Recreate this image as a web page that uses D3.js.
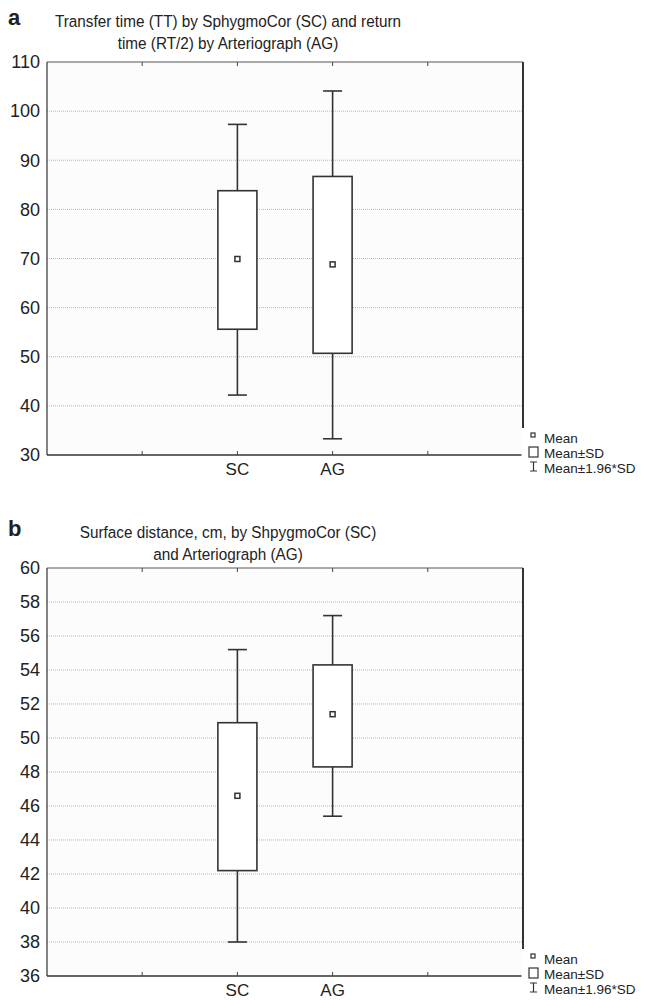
<!DOCTYPE html>
<html>
<head>
<meta charset="utf-8">
<script src="https://cdn.jsdelivr.net/npm/d3@7"></script>
<style>
  body { margin: 0; background: #fff; }
  text { font-family: "Liberation Sans", Arial, Helvetica, sans-serif; fill: #222; }
</style>
</head>
<body>
<div id="chart"></div>
<script>
// groups on the x axis
const groups = ["SC", "AG"];

// panel a: transfer time / return time
const ttMean = [69.9, 68.8];
const ttSdLow = [55.6, 50.7];
const ttSdHigh = [83.8, 86.7];
const ttCiLow = [42.2, 33.3];
const ttCiHigh = [97.3, 104.1];
const ttTicks = [30, 40, 50, 60, 70, 80, 90, 100, 110];

// panel b: surface distance, cm
const sdMean = [46.6, 51.4];
const sdLow = [42.2, 48.3];
const sdHigh = [50.9, 54.3];
const sdCiLow = [38.0, 45.4];
const sdCiHigh = [55.2, 57.2];
const sdTicks = [36, 38, 40, 42, 44, 46, 48, 50, 52, 54, 56, 58, 60];

const legendLabels = ["Mean", "Mean\u00b1SD", "Mean\u00b11.96*SD"];

const svg = d3.select("#chart")
    .append("svg")
    .attr("width", 655)
    .attr("height", 1000);

function drawPanel(options) {
    const left = 47, right = 523;
    const top = options.top, bottom = options.bottom;
    const g = svg.append("g");

    const x = d3.scaleLinear().domain([0, 5]).range([left, right]);
    const y = d3.scaleLinear().domain(options.domain).range([bottom, top]);

    // panel letter and title
    g.append("text")
        .attr("x", 8)
        .attr("y", options.titleY - 2)
        .attr("font-size", "22px")
        .attr("font-weight", "bold")
        .text(options.letter);

    options.title.forEach((line, i) => {
        g.append("text")
            .attr("transform", `translate(228, ${options.titleY + i * 22}) scale(0.9, 1)`)
            .attr("text-anchor", "middle")
            .attr("font-size", "17px")
            .text(line);
    });

    // plot background
    g.append("rect")
        .attr("x", left)
        .attr("y", top)
        .attr("width", right - left)
        .attr("height", bottom - top)
        .attr("fill", "#fcfcfc");

    // dotted grid lines
    const inner = options.ticks.slice(1, -1);
    g.selectAll(".grid")
        .data(inner)
        .join("line")
        .attr("x1", left)
        .attr("x2", right)
        .attr("y1", d => y(d))
        .attr("y2", d => y(d))
        .attr("stroke", "#b5b5b5")
        .attr("stroke-width", 1)
        .attr("stroke-dasharray", "1,1");

    // y axis labels
    const yAxis = d3.axisLeft(y)
        .tickValues(options.ticks)
        .tickSize(0)
        .tickPadding(7);
    const ya = g.append("g")
        .attr("transform", `translate(${left},0)`)
        .call(yAxis);
    ya.select(".domain").remove();
    ya.selectAll("text")
        .attr("font-size", "18px")
        .attr("font-family", "Liberation Sans, Arial, sans-serif")
        .attr("fill", "#222");

    // frame
    g.append("line").attr("x1", left).attr("x2", right).attr("y1", top).attr("y2", top)
        .attr("stroke", "#555").attr("stroke-width", 1);
    g.append("line").attr("x1", left).attr("x2", left).attr("y1", top).attr("y2", bottom)
        .attr("stroke", "#333").attr("stroke-width", 1.2);
    g.append("line").attr("x1", right).attr("x2", right).attr("y1", top).attr("y2", bottom)
        .attr("stroke", "#333").attr("stroke-width", 2);
    g.append("line").attr("x1", left).attr("x2", right).attr("y1", bottom).attr("y2", bottom)
        .attr("stroke", "#333").attr("stroke-width", 1.5);

    // inward ticks on top and bottom
    const xTicks = [1, 2, 3, 4];
    g.selectAll(".ttop")
        .data(xTicks)
        .join("line")
        .attr("x1", d => x(d)).attr("x2", d => x(d))
        .attr("y1", top).attr("y2", top + 4)
        .attr("stroke", "#444");
    g.selectAll(".tbot")
        .data(xTicks)
        .join("line")
        .attr("x1", d => x(d)).attr("x2", d => x(d))
        .attr("y1", bottom).attr("y2", bottom - 4)
        .attr("stroke", "#444");

    // category labels
    g.selectAll(".cat")
        .data(groups)
        .join("text")
        .attr("x", (d, i) => x(i + 2))
        .attr("y", bottom + 20)
        .attr("text-anchor", "middle")
        .attr("font-size", "17px")
        .text(d => d);

    const boxHalf = (x(1) - x(0)) * 0.205;
    const capHalf = (x(1) - x(0)) * 0.1;
    const stroke = "#333";

    groups.forEach((name, i) => {
        const cx = x(i + 2);
        // whisker line
        g.append("line")
            .attr("x1", cx).attr("x2", cx)
            .attr("y1", y(options.ciLow[i])).attr("y2", y(options.ciHigh[i]))
            .attr("stroke", stroke).attr("stroke-width", 1.6);
        [options.ciLow[i], options.ciHigh[i]].forEach(v => {
            g.append("line")
                .attr("x1", cx - capHalf).attr("x2", cx + capHalf)
                .attr("y1", y(v)).attr("y2", y(v))
                .attr("stroke", stroke).attr("stroke-width", 1.6);
        });
        // box
        g.append("rect")
            .attr("x", cx - boxHalf)
            .attr("y", y(options.high[i]))
            .attr("width", boxHalf * 2)
            .attr("height", y(options.low[i]) - y(options.high[i]))
            .attr("fill", "#fff")
            .attr("stroke", stroke)
            .attr("stroke-width", 1.6);
        // mean marker
        g.append("rect")
            .attr("x", cx - 2.5)
            .attr("y", y(options.mean[i]) - 2.5)
            .attr("width", 5)
            .attr("height", 5)
            .attr("fill", "#fff")
            .attr("stroke", stroke)
            .attr("stroke-width", 1.5);
    });

    // legend, drawn over the bottom right corner
    const lg = g.append("g");
    lg.append("rect")
        .attr("x", right - 1.5)
        .attr("y", bottom - 27)
        .attr("width", 655 - right + 1.5)
        .attr("height", 50)
        .attr("fill", "#fff");
    lg.append("rect")
        .attr("x", 531).attr("y", bottom - 22)
        .attr("width", 4).attr("height", 4)
        .attr("fill", "#fff").attr("stroke", stroke).attr("stroke-width", 1.2);
    lg.append("rect")
        .attr("x", 529).attr("y", bottom - 8)
        .attr("width", 9).attr("height", 10)
        .attr("fill", "#fff").attr("stroke", stroke).attr("stroke-width", 1.2);
    lg.append("path")
        .attr("d", `M530,${bottom + 7}H537M533.5,${bottom + 7}V${bottom + 16}M530,${bottom + 16}H537`)
        .attr("fill", "none").attr("stroke", stroke).attr("stroke-width", 1.2);
    legendLabels.forEach((label, i) => {
        lg.append("text")
            .attr("x", 544)
            .attr("y", bottom - 12 + i * 15)
            .attr("font-size", "13.5px")
            .text(label);
    });
}

drawPanel({
    letter: "a",
    title: ["Transfer time (TT) by SphygmoCor (SC) and return", "time (RT/2) by Arteriograph (AG)"],
    titleY: 27,
    top: 62,
    bottom: 455,
    domain: [30, 110],
    ticks: ttTicks,
    mean: ttMean, low: ttSdLow, high: ttSdHigh, ciLow: ttCiLow, ciHigh: ttCiHigh
});

drawPanel({
    letter: "b",
    title: ["Surface distance, cm, by ShpygmoCor (SC)", "and Arteriograph (AG)"],
    titleY: 538,
    top: 568,
    bottom: 976,
    domain: [36, 60],
    ticks: sdTicks,
    mean: sdMean, low: sdLow, high: sdHigh, ciLow: sdCiLow, ciHigh: sdCiHigh
});
</script>
</body>
</html>
